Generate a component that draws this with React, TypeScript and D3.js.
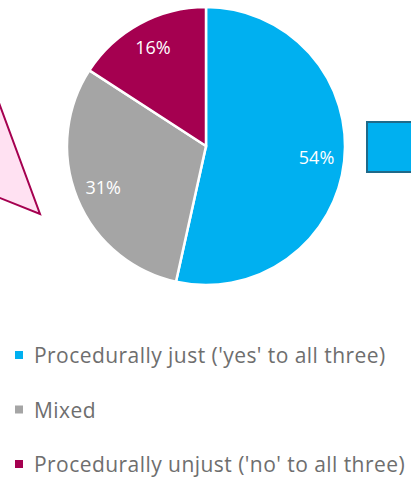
import React from "react";
import * as d3 from "d3";

const categories = [
  "Procedurally just ('yes' to all three)",
  "Mixed",
  "Procedurally unjust ('no' to all three)",
];
const values = [54, 31, 16];
const labels = ["54%", "31%", "16%"];
const colors = ["#00B0F0", "#A5A5A5", "#A50050"];

export default function App() {
  const W = 411, H = 478;
  const cx = 206, cy = 146, r = 139;
  const pie = d3.pie<number>().sort(null).value((d) => d);
  const arcs = pie(values);
  const arc = d3.arc<d3.PieArcDatum<number>>().innerRadius(0).outerRadius(r);
  const labelArc = d3.arc<d3.PieArcDatum<number>>().innerRadius(r * 0.8).outerRadius(r * 0.8);
  const legendY = d3.scalePoint<string>().domain(categories).range([363, 472]);
  return (
    <svg width={W} height={H} style={{ position: "absolute", left: 0, top: 0 }}>
      <rect width={W} height={H} fill="#fff" />
      <polygon points="-5,92 40,214 -5,196" fill="#FFE1F2" stroke="#A50050" strokeWidth={2} />
      <rect x={367} y={122} width={60} height={50} fill="#00B0F0" stroke="#1F6A8A" strokeWidth={2} />
      <g transform={`translate(${cx},${cy})`}>
        {arcs.map((a, i) => (
          <path key={i} d={arc(a) || ""} fill={colors[i]} stroke="#fff" strokeWidth={2.5} />
        ))}
        {arcs.map((a, i) => {
          const [x, y] = labelArc.centroid(a);
          return (
            <text key={i} x={x} y={y + 6} fill="#fff" fontFamily="'Open Sans', sans-serif" fontSize={18}
              textAnchor="middle">{labels[i]}</text>
          );
        })}
      </g>
      {categories.map((c, i) => {
        const y = legendY(c) as number;
        return (
          <g key={c}>
            <rect x={15} y={y - 12} width={8} height={8} fill={colors[i]} />
            <text x={34} y={y} fill="#6E6E6E" fontFamily="'Open Sans', sans-serif" fontSize={21}
              letterSpacing={0.45}>{c}</text>
          </g>
        );
      })}
    </svg>
  );
}
